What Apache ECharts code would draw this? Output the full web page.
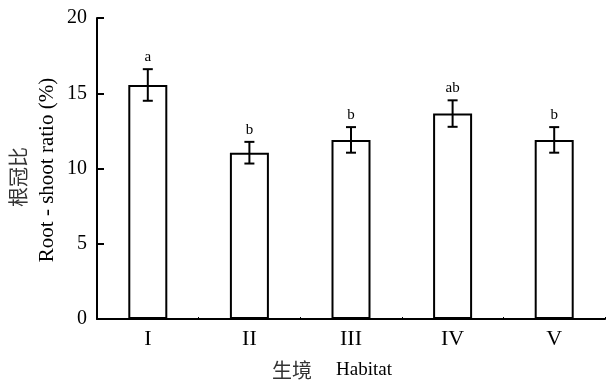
<!DOCTYPE html>
<html>
<head>
<meta charset="utf-8">
<script src="https://cdn.jsdelivr.net/npm/echarts@6/dist/echarts.min.js"></script>
<style>
html,body{margin:0;padding:0;background:#fff;}
#chart{width:606px;height:384px;}
</style>
</head>
<body>
<div id="chart"></div>
<script>
var categories = ['I', 'II', 'III', 'IV', 'V'];
var means = [15.55, 11.05, 11.9, 13.65, 11.9];
var errors = [1.05, 0.72, 0.85, 0.88, 0.85];
var letters = ['a', 'b', 'b', 'ab', 'b'];
var yTicks = [0, 5, 10, 15, 20];

var serif = '"Liberation Serif", "Times New Roman", serif';
var cjk = '"Noto Sans CJK SC", sans-serif';

var chart = echarts.init(document.getElementById('chart'));
var errData = categories.map(function (c, i) { return [i, means[i], errors[i], letters[i]]; });

chart.setOption({
  animation: false,
  backgroundColor: '#fff',
  grid: { left: 97, right: 1, top: 18, bottom: 65 },
  xAxis: {
    type: 'category',
    data: categories,
    axisLine: { lineStyle: { color: '#000', width: 2 } },
    axisTick: { show: true, inside: true, length: 2, lineStyle: { color: '#000', width: 1 } },
    axisLabel: { color: '#000', fontFamily: serif, fontSize: 22, margin: 9 }
  },
  yAxis: {
    type: 'value',
    min: yTicks[0],
    max: yTicks[yTicks.length - 1],
    interval: 5,
    splitLine: { show: false },
    axisLine: { show: true, lineStyle: { color: '#000', width: 2 } },
    axisTick: { show: true, inside: true, length: 7, lineStyle: { color: '#000', width: 2 } },
    axisLabel: { color: '#000', fontFamily: serif, fontSize: 20, margin: 10 }
  },
  graphic: [
    {
      type: 'text', rotation: Math.PI / 2,
      x: 18, y: 177,
      style: { text: '根冠比', font: '20px ' + cjk, fill: '#333', textAlign: 'center', textVerticalAlign: 'middle' }
    },
    {
      type: 'text', rotation: Math.PI / 2,
      x: 47, y: 170,
      style: { text: 'Root - shoot ratio (%)', font: '21px ' + serif, fill: '#000', textAlign: 'center', textVerticalAlign: 'middle' }
    },
    {
      type: 'text', x: 272, y: 370,
      style: { text: '生境', font: '20px ' + cjk, fill: '#333', textVerticalAlign: 'middle' }
    },
    {
      type: 'text', x: 336, y: 370,
      style: { text: 'Habitat', font: '19px ' + serif, fill: '#000', textVerticalAlign: 'middle' }
    }
  ],
  series: [
    {
      type: 'bar',
      data: means,
      barWidth: 39,
      itemStyle: { color: '#fff', borderColor: '#000', borderWidth: 2 }
    },
    {
      type: 'custom',
      data: errData,
      z: 10,
      renderItem: function (params, api) {
        var x = api.value(0), m = api.value(1), e = api.value(2);
        var top = api.coord([x, m + e]);
        var bot = api.coord([x, m - e]);
        var hw = 5;
        var st = { stroke: '#000', lineWidth: 2 };
        return {
          type: 'group',
          children: [
            { type: 'line', shape: { x1: top[0], y1: top[1], x2: bot[0], y2: bot[1] }, style: st },
            { type: 'line', shape: { x1: top[0] - hw, y1: top[1], x2: top[0] + hw, y2: top[1] }, style: st },
            { type: 'line', shape: { x1: bot[0] - hw, y1: bot[1], x2: bot[0] + hw, y2: bot[1] }, style: st },
            { type: 'text', x: top[0], y: top[1] - 12,
              style: { text: letters[params.dataIndex], font: '15px ' + serif, fill: '#000', textAlign: 'center', textVerticalAlign: 'middle' } }
          ]
        };
      }
    }
  ]
});
</script>
</body>
</html>
